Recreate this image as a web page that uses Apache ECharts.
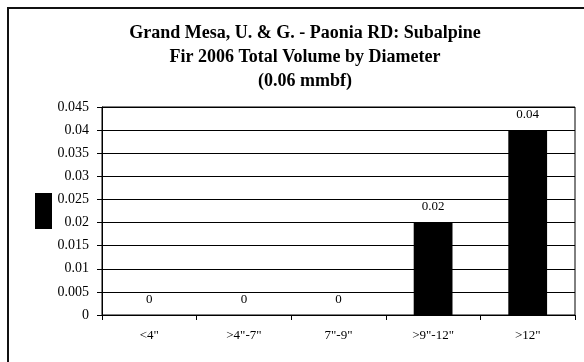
<!DOCTYPE html>
<html>
<head>
<meta charset="utf-8">
<script src="https://cdn.jsdelivr.net/npm/echarts@6/dist/echarts.min.js"></script>
<style>html,body{margin:0;padding:0;background:#fff;}#c{width:584px;height:362px;}</style>
</head>
<body>
<div id="c"></div>
<script>
const titleLines = ["Grand Mesa, U. & G. - Paonia RD: Subalpine", "Fir 2006 Total Volume by Diameter", "(0.06 mmbf)"];
const categories = ['<4"', '>4"-7"', '7"-9"', '>9"-12"', '>12"'];
const volumes = [0, 0, 0, 0.02, 0.04];
const seriesName = 'Volume';

const chart = echarts.init(document.getElementById('c'), null, {renderer: 'canvas'});
const serif = 'Liberation Serif, Times New Roman, serif';
chart.setOption({
  animation: false,
  backgroundColor: '#fff',
  title: {
    text: titleLines.join('\n'),
    left: 300, top: 16, textAlign: 'center',
    textStyle: {fontFamily: serif, fontWeight: 'bold', fontSize: 18, lineHeight: 24, color: '#000'}
  },
  legend: {
    data: [seriesName],
    left: 30, top: 188, orient: 'vertical',
    itemWidth: 17, itemHeight: 36, itemGap: 0,
    icon: 'rect',
    formatter: () => '',
    textStyle: {fontSize: 1},
    selectedMode: false
  },
  graphic: [{
    type: 'rect', shape: {x: 8, y: 8, width: 700, height: 500},
    style: {fill: 'none', stroke: '#111', lineWidth: 2}, silent: true
  }],
  grid: {left: 102, right: 9, top: 107, bottom: 47, show: true, borderColor: '#000', borderWidth: 1},
  xAxis: {
    type: 'category', data: categories,
    axisLine: {lineStyle: {color: '#000'}},
    axisTick: {show: true, length: 5, lineStyle: {color: '#000'}},
    axisLabel: {fontFamily: serif, fontSize: 13, color: '#000', margin: 14}
  },
  yAxis: {
    type: 'value', min: 0, max: 0.045, interval: 0.005,
    axisLine: {show: true, lineStyle: {color: '#000'}},
    axisTick: {show: true, length: 5, lineStyle: {color: '#000'}},
    axisLabel: {fontFamily: serif, fontSize: 14, color: '#000', margin: 13,
      formatter: v => String(+v.toFixed(3))},
    splitLine: {show: true, lineStyle: {color: '#000', width: 1}}
  },
  series: [{
    name: seriesName, type: 'bar', data: volumes,
    barWidth: '41%',
    itemStyle: {color: '#000'},
    label: {show: true, position: 'top', distance: 9, fontFamily: serif, fontSize: 13, color: '#000',
      formatter: p => String(p.value)}
  }]
});
</script>
</body>
</html>
